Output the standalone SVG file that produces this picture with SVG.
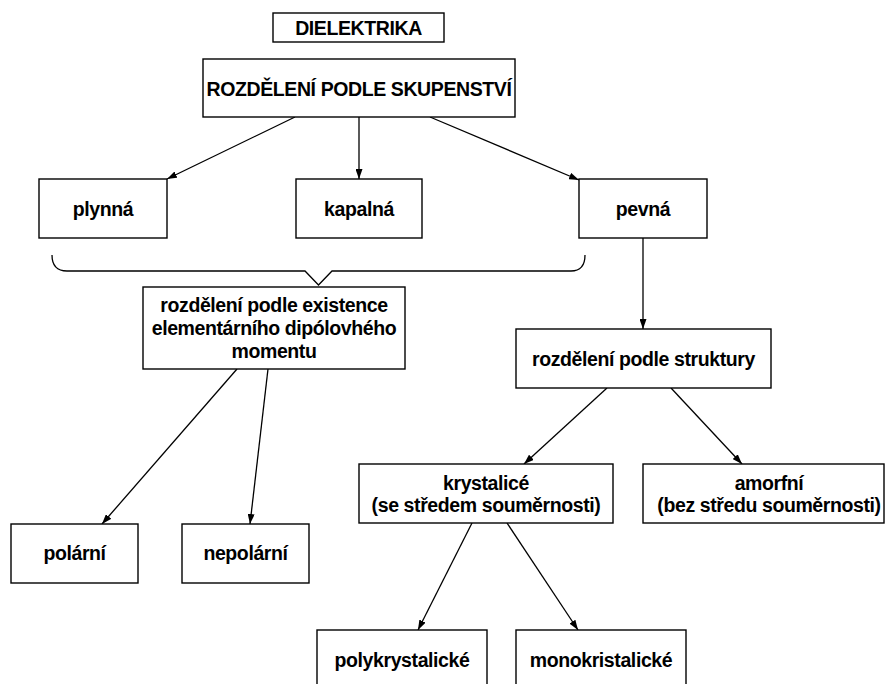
<svg xmlns="http://www.w3.org/2000/svg" width="885" height="684" viewBox="0 0 885 684">
<style>
.box{fill:#fff;stroke:#000;stroke-width:1.4}
.t{font-family:"Liberation Sans",Arial,sans-serif;font-weight:bold;font-size:19.5px;letter-spacing:-0.4px;fill:#000;text-anchor:middle}
.c{fill:none;stroke:#000;stroke-width:1.3}
</style>
<defs>
<marker id="ah" viewBox="0 0 10 7" refX="10" refY="3.5" markerWidth="10" markerHeight="7" markerUnits="userSpaceOnUse" orient="auto">
<path d="M0,0 L10,3.5 L0,7 z" fill="#000"/>
</marker>
</defs>
<rect width="885" height="684" fill="#fff"/>
<g id="connectors">
<line class="c" x1="295" y1="117" x2="167" y2="179" marker-end="url(#ah)"/>
<line class="c" x1="359" y1="117" x2="359" y2="179" marker-end="url(#ah)"/>
<line class="c" x1="430" y1="117" x2="579" y2="180" marker-end="url(#ah)"/>
<path class="c" d="M52,255 Q52,271 67,271 L305,271 L318.5,285 L332,271 L571,271 Q585,271 585,255"/>
<line class="c" x1="643" y1="238" x2="643" y2="329" marker-end="url(#ah)"/>
<line class="c" x1="237" y1="369" x2="102" y2="524" marker-end="url(#ah)"/>
<line class="c" x1="268" y1="369" x2="250" y2="524" marker-end="url(#ah)"/>
<line class="c" x1="607" y1="388" x2="524" y2="464" marker-end="url(#ah)"/>
<line class="c" x1="671" y1="388" x2="742" y2="464" marker-end="url(#ah)"/>
<line class="c" x1="472" y1="523" x2="418" y2="630" marker-end="url(#ah)"/>
<line class="c" x1="507" y1="523" x2="578" y2="630" marker-end="url(#ah)"/>
</g>
<g id="dielektrika">
<rect class="box" x="273" y="13" width="171" height="29"/>
<text class="t" x="358.5" y="35">DIELEKTRIKA</text>
</g>
<g id="skupenstvi">
<rect class="box" x="203" y="59" width="312" height="58"/>
<text class="t" x="359" y="96">ROZDĚLENÍ PODLE SKUPENSTVÍ</text>
</g>
<g id="plynna">
<rect class="box" x="39" y="179" width="128" height="59"/>
<text class="t" x="103" y="216">plynná</text>
</g>
<g id="kapalna">
<rect class="box" x="296" y="179" width="126" height="59"/>
<text class="t" x="359" y="216">kapalná</text>
</g>
<g id="pevna">
<rect class="box" x="579" y="179" width="128" height="59"/>
<text class="t" x="643" y="216">pevná</text>
</g>
<g id="dipol">
<rect class="box" x="143" y="287" width="262" height="82"/>
<text class="t" x="274" y="312">rozdělení podle existence</text>
<text class="t" x="274" y="335">elementárního dipólovhého</text>
<text class="t" x="274" y="358">momentu</text>
</g>
<g id="struktura">
<rect class="box" x="516" y="329" width="255" height="59"/>
<text class="t" x="643.5" y="366">rozdělení podle struktury</text>
</g>
<g id="polarni">
<rect class="box" x="11" y="524" width="127" height="59"/>
<text class="t" x="74.5" y="560">polární</text>
</g>
<g id="nepolarni">
<rect class="box" x="182" y="524" width="127" height="59"/>
<text class="t" x="245.5" y="560">nepolární</text>
</g>
<g id="krystalice">
<rect class="box" x="359" y="464" width="254" height="59"/>
<text class="t" x="486" y="490">krystalicé</text>
<text class="t" x="486" y="512">(se středem souměrnosti)</text>
</g>
<g id="amorfni">
<rect class="box" x="643" y="464" width="241" height="59"/>
<text class="t" x="769" y="490">amorfní</text>
<text class="t" x="769" y="512">(bez středu souměrnosti)</text>
</g>
<g id="polykrystalicke">
<rect class="box" x="317" y="630" width="170" height="60"/>
<text class="t" x="402" y="667">polykrystalické</text>
</g>
<g id="monokristalicke">
<rect class="box" x="516" y="630" width="170" height="60"/>
<text class="t" x="601" y="667">monokristalické</text>
</g>
</svg>
